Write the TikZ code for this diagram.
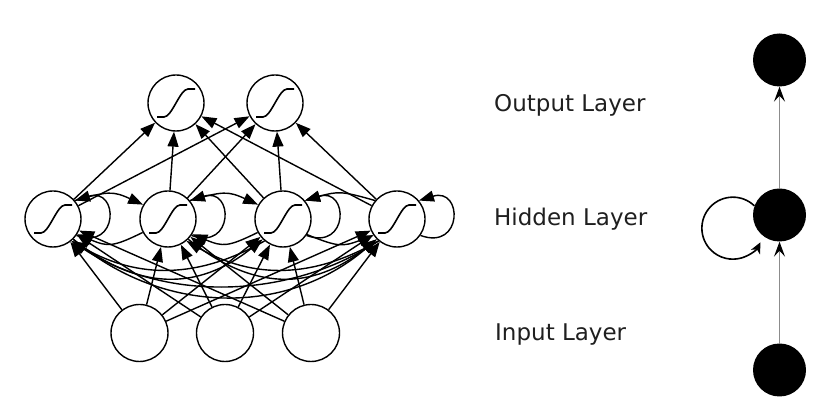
\documentclass[tikz,border=0pt]{standalone}
\usepackage{fontspec}
\setmainfont{DejaVu Sans}
\usetikzlibrary{arrows.meta,calc}
\begin{document}
\begin{tikzpicture}[x=1pt,y=1pt,
  neuron/.style={circle,draw,line width=1.4pt,minimum size=56pt,inner sep=0pt,fill=white},
  signeuron/.style={neuron, path picture={
     \coordinate (pc) at (path picture bounding box.center);
     \draw[line width=1.6pt] ([shift={(-19pt,-14pt)}]pc) -- ([shift={(-12pt,-14pt)}]pc)
        .. controls ([shift={(-4pt,-14pt)}]pc) and ([shift={(4pt,14pt)}]pc) .. ([shift={(12pt,14pt)}]pc)
        -- ([shift={(19pt,14pt)}]pc);}},
  innode/.style={neuron,minimum size=57pt},
  e/.style={line width=1.4pt,-{Triangle[length=15pt,width=11pt]}},
  blob/.style={circle,fill=black,minimum size=53pt,inner sep=0pt},
  greyline/.style={line width=1pt,draw=black!45,-{Stealth[length=15pt,width=11pt,inset=6pt,black]}},
  recloop/.style={line width=1.6pt,-{Stealth[length=11pt,width=10pt,inset=3pt]}},
  lab/.style={anchor=base west,inner sep=0pt,font=\fontsize{23}{27}\selectfont,text=black!88}
]
\useasboundingbox (0,0) rectangle (831,-419);

% left network
\node[signeuron] (O1) at (176,-103) {};
\node[signeuron] (O2) at (275,-103) {};
\node[signeuron] (H1) at (53,-219) {};
\node[signeuron] (H2) at (168,-219) {};
\node[signeuron] (H3) at (283,-219) {};
\node[signeuron] (H4) at (397,-219) {};
\node[innode] (I1) at (139.5,-333) {};
\node[innode] (I2) at (225,-333) {};
\node[innode] (I3) at (311,-333) {};

% hidden -> output
\foreach \h in {H1,H2,H3,H4}{
  \foreach \o in {O1,O2}{ \draw[e] (\h) -- (\o); }
}
% input -> hidden
\foreach \i in {I1,I2,I3}{
  \foreach \h in {H1,H2,H3,H4}{ \draw[e] (\i) -- (\h); }
}
% self loops
\foreach \h in {H1,H2,H3,H4}{
  \draw[e] (\h.-35) .. controls ($(\h)+(66,-32)$) and ($(\h)+(66,32)$) .. (\h.40);
}
% neighbour curves (top)
\draw[e] (H1.40) .. controls ($(H1)+(55,28)$) and ($(H2)+(-55,28)$) .. (H2.150);
\draw[e] (H2.40) .. controls ($(H2)+(55,28)$) and ($(H3)+(-55,28)$) .. (H3.150);
\draw[e] (H4.140) .. controls ($(H4)+(-55,28)$) and ($(H3)+(55,28)$) .. (H3.40);
% neighbour curves (bottom)
\draw[e] (H2.208) .. controls ($(H2)+(-55,-28)$) and ($(H1)+(55,-28)$) .. (H1.-32);
\draw[e] (H3.208) .. controls ($(H3)+(-55,-28)$) and ($(H2)+(55,-28)$) .. (H2.-32);
\draw[e] (H3.-33) .. controls ($(H3)+(55,-28)$) and ($(H4)+(-55,-28)$) .. (H4.215);
% long arcs
\draw[e] (H1.-45) .. controls ($(H1)+(85,-72)$) and ($(H3)+(-85,-72)$) .. (H3.-135);
\draw[e] (H3.-130) .. controls ($(H3)+(-85,-60)$) and ($(H1)+(85,-60)$) .. (H1.-50);
\draw[e] (H2.-45) .. controls ($(H2)+(85,-72)$) and ($(H4)+(-85,-72)$) .. (H4.-135);
\draw[e] (H4.-130) .. controls ($(H4)+(-85,-60)$) and ($(H2)+(85,-60)$) .. (H2.-50);
\draw[e] (H1.-45) .. controls ($(H1)+(110,-97)$) and ($(H4)+(-110,-97)$) .. (H4.-135);
\draw[e] (H4.-130) .. controls ($(H4)+(-110,-82)$) and ($(H1)+(110,-82)$) .. (H1.-50);

% labels
\node[lab] (lo) at (494,-112) {Output Layer};
\node[lab] (lh) at (494,-226) {Hidden Layer};
\node[lab] (li) at (495,-341) {Input Layer};

% right: compact recurrent view
\node[blob] (T) at (779.5,-60) {};
\node[blob] (M) at (779.5,-215) {};
\node[blob] (B) at (779.5,-370) {};
\draw[greyline] (B) -- (M);
\draw[greyline] (M) -- (T);
\draw[recloop] (M.160) arc[start angle=46, end angle=333, radius=31];
\end{tikzpicture}
\end{document}
